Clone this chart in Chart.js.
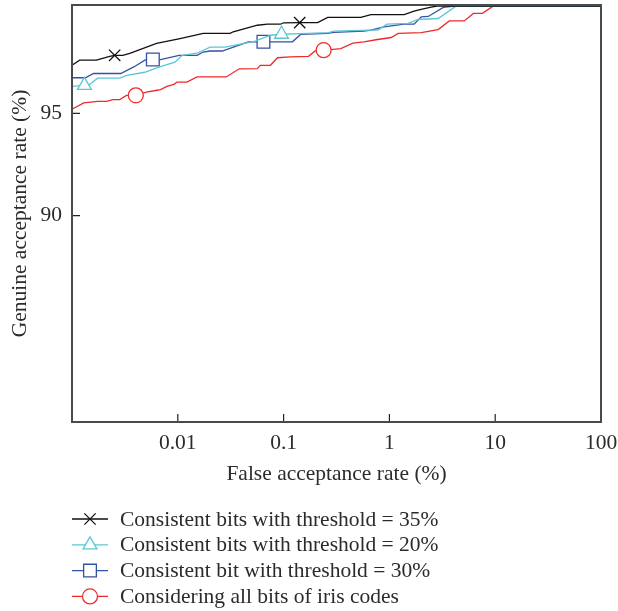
<!DOCTYPE html>
<html>
<head>
<meta charset="utf-8">
<script src="https://cdn.jsdelivr.net/npm/chart.js@4/dist/chart.umd.min.js"></script>
<style>
  html, body { margin: 0; padding: 0; background: #fff; }
  canvas { display: block; }
</style>
</head>
<body>
<canvas id="rocChart" width="618" height="611"></canvas>
<script>
// axis ticks
const xTicks = [0.01, 0.1, 1, 10, 100];
const yTicks = [90, 95];

// series names, in legend order
const seriesLabels = [
  'Consistent bits with threshold = 35%',
  'Consistent bits with threshold = 20%',
  'Consistent bit with threshold = 30%',
  'Considering all bits of iris codes'
];

// FAR (%) / GAR (%) pairs per curve, markers go on the listed indices
const farT35 = [0.001, 0.00118, 0.0017, 0.00227, 0.00253, 0.00302, 0.00352, 0.0063, 0.0105, 0.0174, 0.0313, 0.0334, 0.0565, 0.0703, 0.0935, 0.0998, 0.142, 0.21, 0.261, 0.537, 0.669, 1.38, 1.71, 2.04, 2.48, 2.83, 100];
const garT35 = [97.35, 97.6, 97.6, 97.79, 97.84, 97.84, 97.93, 98.42, 98.66, 98.91, 98.91, 98.99, 99.31, 99.36, 99.36, 99.43, 99.44, 99.44, 99.69, 99.69, 99.83, 99.83, 100.0, 100.1, 100.2, 100.25, 100.25];
const markT35 = [4, 16];

const farT20 = [0.001, 0.00131, 0.00144, 0.0016, 0.00175, 0.00283, 0.00329, 0.00488, 0.0065, 0.0094, 0.011, 0.0152, 0.0202, 0.0281, 0.0541, 0.0751, 0.0955, 0.145, 0.267, 0.298, 0.669, 0.779, 0.949, 1.5, 1.87, 2.89, 4.29, 100];
const garT20 = [96.32, 96.37, 96.37, 96.57, 96.72, 96.72, 96.86, 97.01, 97.25, 97.5, 97.84, 97.94, 98.24, 98.24, 98.53, 98.82, 98.87, 98.9, 98.95, 99.02, 99.07, 99.07, 99.36, 99.4, 99.59, 99.64, 100.25, 100.25];
const markT20 = [1, 16];

const farT30 = [0.001, 0.00134, 0.0016, 0.00289, 0.00384, 0.00488, 0.00581, 0.00686, 0.0103, 0.0152, 0.0174, 0.0202, 0.0263, 0.0464, 0.0645, 0.1215, 0.1447, 0.261, 0.298, 0.574, 0.669, 0.889, 1.376, 1.712, 2.0, 2.33, 3.23, 4.11, 100];
const garT30 = [96.74, 96.74, 96.95, 96.95, 97.27, 97.6, 97.63, 97.63, 97.84, 97.84, 98.0, 98.05, 98.05, 98.5, 98.5, 98.5, 98.86, 98.91, 98.96, 99.02, 99.07, 99.23, 99.36, 99.36, 99.72, 99.74, 100.18, 100.25, 100.25];
const markT30 = [6, 14];

const farAll = [0.001, 0.00129, 0.00175, 0.00213, 0.00243, 0.00283, 0.00327, 0.00401, 0.00504, 0.00635, 0.00686, 0.0079, 0.0092, 0.00983, 0.0122, 0.0152, 0.0287, 0.0381, 0.0565, 0.0603, 0.0751, 0.0875, 0.116, 0.172, 0.197, 0.239, 0.279, 0.347, 0.451, 0.574, 0.746, 1.04, 1.21, 2.0, 2.89, 3.68, 5.11, 6.22, 7.57, 9.63, 100];
const garAll = [95.2, 95.51, 95.59, 95.59, 95.67, 95.67, 95.88, 95.88, 96.04, 96.13, 96.16, 96.32, 96.42, 96.53, 96.53, 96.78, 96.78, 97.18, 97.19, 97.35, 97.35, 97.72, 97.76, 97.79, 98.04, 98.09, 98.12, 98.17, 98.43, 98.5, 98.6, 98.71, 98.91, 98.95, 99.1, 99.52, 99.52, 99.89, 99.89, 100.25, 100.25];
const markAll = [7, 25];

const TEXT = '#2b2b2b';
const FONT = 'Liberation Serif';
const FONT_SIZE = 21.5;

function curve(label, far, gar, marks, color, style, size) {
  return {
    label: label,
    data: far.map((f, i) => ({x: f, y: gar[i]})),
    showLine: true,
    borderColor: color,
    borderWidth: 1.3,
    tension: 0,
    pointStyle: style,
    markerSize: size,
    pointRadius: c => marks.includes(c.dataIndex) ? size : 0,
    pointBorderColor: color,
    pointBackgroundColor: '#fff',
    pointBorderWidth: 1.3
  };
}

// box around the plot plus inward tick marks
const frameTicks = {
  id: 'frameTicks',
  afterDatasetsDraw(chart) {
    const {ctx, chartArea: a, scales: {x, y}} = chart;
    ctx.save();
    ctx.strokeStyle = '#222';
    ctx.lineWidth = 1.2;
    ctx.beginPath();
    x.ticks.forEach(t => {
      const px = x.getPixelForValue(t.value);
      ctx.moveTo(px, a.bottom); ctx.lineTo(px, a.bottom - 8);
    });
    y.ticks.forEach(t => {
      const py = y.getPixelForValue(t.value);
      ctx.moveTo(a.left, py); ctx.lineTo(a.left + 8, py);
    });
    ctx.stroke();
    ctx.strokeStyle = '#4a4a4a';
    ctx.lineWidth = 2;
    ctx.strokeRect(a.left, a.top, a.right - a.left, a.bottom - a.top);
    ctx.restore();
  }
};

// legend stacked under the x axis: line sample, marker, text
const legendRows = {
  id: 'legendRows',
  afterDraw(chart) {
    const {ctx} = chart;
    chart.data.datasets.forEach((ds, i) => {
      const y = 519 + i * 25.8;
      ctx.save();
      ctx.strokeStyle = ds.borderColor;
      ctx.lineWidth = ds.borderWidth;
      ctx.beginPath();
      ctx.moveTo(72, y); ctx.lineTo(108, y);
      ctx.stroke();
      ctx.fillStyle = '#fff';
      Chart.helpers.drawPoint(ctx, {pointStyle: ds.pointStyle, radius: ds.markerSize, borderWidth: ds.borderWidth, rotation: 0}, 90, y);
      ctx.fillStyle = TEXT;
      ctx.font = FONT_SIZE + 'px "' + FONT + '"';
      ctx.textBaseline = 'middle';
      ctx.fillText(ds.label, 120, y + 1);
      ctx.restore();
    });
  }
};

Chart.defaults.font.family = FONT;
Chart.defaults.font.size = FONT_SIZE;
Chart.defaults.color = TEXT;

new Chart(document.getElementById('rocChart'), {
  type: 'scatter',
  data: {
    datasets: [
      curve(seriesLabels[0], farT35, garT35, markT35, '#111111', 'crossRot', 8),
      curve(seriesLabels[1], farT20, garT20, markT20, '#5cc6d6', 'triangle', 8),
      curve(seriesLabels[2], farT30, garT30, markT30, '#3452a4', 'rect', 9),
      curve(seriesLabels[3], farAll, garAll, markAll, '#ee2b2b', 'circle', 7.5)
    ]
  },
  options: {
    responsive: false,
    animation: false,
    events: [],
    layout: { padding: { top: 5, right: 17, bottom: 119, left: 0 } },
    plugins: {
      legend: { display: false },
      tooltip: { enabled: false }
    },
    scales: {
      x: {
        type: 'logarithmic',
        min: 0.001,
        max: 100,
        afterBuildTicks: s => { s.ticks = xTicks.map(v => ({value: v})); },
        afterFit: s => { s.height = 70; s.paddingLeft = 0; s.paddingRight = 0; },
        ticks: { callback: v => String(v), padding: 8, autoSkip: false, maxRotation: 0 },
        grid: { display: false, drawTicks: false },
        border: { display: false },
        title: { display: true, text: 'False acceptance rate (%)', padding: 5 }
      },
      y: {
        min: 79.9,
        max: 100.3,
        afterBuildTicks: s => { s.ticks = yTicks.map(v => ({value: v})); },
        afterFit: s => { s.width = 72; s.paddingTop = 0; s.paddingBottom = 0; },
        ticks: { padding: 10 },
        grid: { display: false, drawTicks: false },
        border: { display: false },
        title: { display: true, text: 'Genuine acceptance rate (%)', padding: 7 }
      }
    }
  },
  plugins: [frameTicks, legendRows]
});
</script>
</body>
</html>
